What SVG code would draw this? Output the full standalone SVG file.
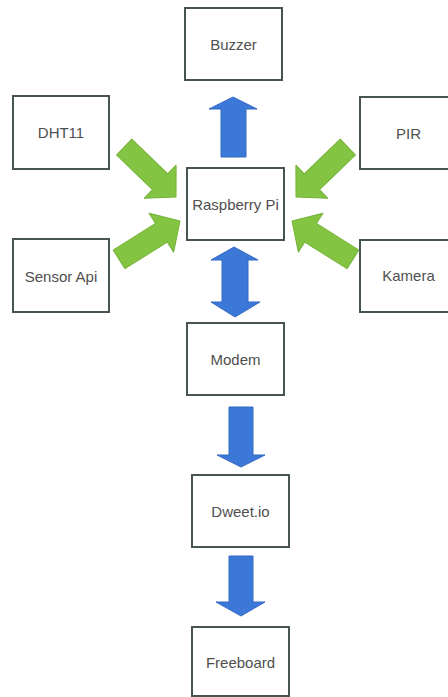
<svg xmlns="http://www.w3.org/2000/svg" width="448" height="697" viewBox="0 0 448 697">
<style>
.box{fill:#ffffff;stroke:#46564c;stroke-width:2}
.lbl{font-family:"Liberation Sans",Arial,sans-serif;font-size:15px;fill:#4f4f4f;text-anchor:middle;dominant-baseline:central}
.g{fill:#84c443;stroke:#74b236;stroke-width:1;stroke-linejoin:round}
.b{fill:#3c78d8;stroke:#3569c2;stroke-width:1;stroke-linejoin:round}
</style>
<defs>
<polygon id="garrow" points="0,0 -22,23 -22,11 -72,11 -72,-11 -22,-11 -22,-23"/>
</defs>
<rect width="448" height="697" fill="#ffffff"/>
<g id="connectors">
<polygon class="b" points="233,97 257,109 246,109 246,157 221,157 221,109 209,109"/>
<polygon class="b" points="234,247 258,260 248,260 248,302 260,302 235,317 211,302 222,302 222,260 211,260"/>
<polygon class="b" points="229,407 253,407 253,455 265,455 241,467 217,455 229,455"/>
<polygon class="b" points="229,556 253,556 253,602 265,602 241,616 216,602 229,602"/>
<use href="#garrow" class="g" transform="translate(176,197) rotate(43.9)"/>
<use href="#garrow" class="g" transform="translate(296,197) rotate(136.1)"/>
<use href="#garrow" class="g" transform="translate(180,221) rotate(-32.2)"/>
<use href="#garrow" class="g" transform="translate(292,221) rotate(-147.8)"/>
</g>
<g id="buzzer"><rect class="box" x="185" y="8" width="97" height="72"/><text class="lbl" x="233.5" y="44">Buzzer</text></g>
<g id="raspberry-pi"><rect class="box" x="187" y="168" width="97" height="72"/><text class="lbl" x="235.5" y="204">Raspberry Pi</text></g>
<g id="dht11"><rect class="box" x="13" y="96" width="96" height="73"/><text class="lbl" x="61" y="132.5">DHT11</text></g>
<g id="sensor-api"><rect class="box" x="13" y="239" width="96" height="73"/><text class="lbl" x="61" y="276">Sensor Api</text></g>
<g id="pir"><rect class="box" x="360" y="97" width="98" height="72"/><text class="lbl" x="408.5" y="133">PIR</text></g>
<g id="kamera"><rect class="box" x="360" y="240" width="98" height="72"/><text class="lbl" x="408.5" y="275.5">Kamera</text></g>
<g id="modem"><rect class="box" x="187" y="323" width="97" height="72"/><text class="lbl" x="235.5" y="359">Modem</text></g>
<g id="dweet"><rect class="box" x="192" y="475" width="97" height="72"/><text class="lbl" x="240.5" y="511">Dweet.io</text></g>
<g id="freeboard"><rect class="box" x="192" y="627" width="97" height="69"/><text class="lbl" x="240.5" y="662">Freeboard</text></g>
</svg>
